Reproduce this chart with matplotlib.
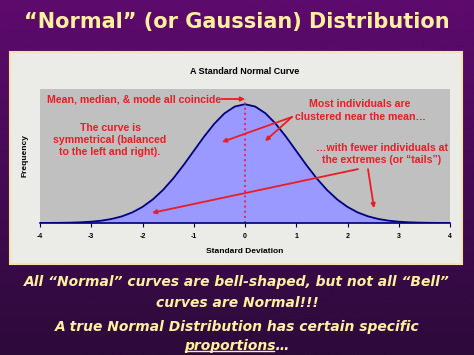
import numpy as np
import matplotlib.pyplot as plt
from matplotlib.patches import Rectangle
from matplotlib.colors import LinearSegmentedColormap

# standard deviations and the curve height
sd = [-4.0, -3.8, -3.6, -3.4, -3.2, -3.0, -2.8, -2.6, -2.4, -2.2, -2.0,
      -1.8, -1.6, -1.4, -1.2, -1.0, -0.8, -0.6, -0.4, -0.2, 0.0,
      0.2, 0.4, 0.6, 0.8, 1.0, 1.2, 1.4, 1.6, 1.8, 2.0,
      2.2, 2.4, 2.6, 2.8, 3.0, 3.2, 3.4, 3.6, 3.8, 4.0]
freq = [0.0001, 0.0003, 0.0006, 0.0012, 0.0024, 0.0044, 0.0079, 0.0136, 0.0224, 0.0355, 0.0540,
        0.0790, 0.1109, 0.1497, 0.1942, 0.2420, 0.2897, 0.3332, 0.3683, 0.3910, 0.3989,
        0.3910, 0.3683, 0.3332, 0.2897, 0.2420, 0.1942, 0.1497, 0.1109, 0.0790, 0.0540,
        0.0355, 0.0224, 0.0136, 0.0079, 0.0044, 0.0024, 0.0012, 0.0006, 0.0003, 0.0001]
ticks = [-4, -3, -2, -1, 0, 1, 2, 3, 4]

red = '#ea1c24'
yellow = '#fff0a0'
W, H = 474, 355

fig = plt.figure(figsize=(W / 100, H / 100), dpi=100)

# purple background
bg = fig.add_axes([0, 0, 1, 1], zorder=-10)
grad = np.linspace(0, 1, 256).reshape(-1, 1)
cmap = LinearSegmentedColormap.from_list('bg', ['#5e0a6e', '#2c0a3a'])
bg.imshow(grad, aspect='auto', cmap=cmap, extent=[0, 1, 0, 1])
bg.axis('off')

# light chart panel
fig.patches.append(Rectangle((10 / W, 1 - 264 / H), 452 / W, 212 / H,
                             transform=fig.transFigure, facecolor='#ebebe8',
                             edgecolor='#f3e3a8', lw=1.5, zorder=-5))

ax = fig.add_axes([40 / W, 1 - 223 / H, 410 / W, 134 / H])
ax.set_facecolor('#c0c0c0')
ax.fill_between(sd, freq, color='#9999ff', lw=0)
ax.plot(sd, freq, color='#000080', lw=1.3)
ax.set_xlim(-4, 4)
ax.set_ylim(0, 0.45)
ax.set_xticks(ticks)
ax.set_xticklabels([str(t) for t in ticks], fontsize=5, fontweight='bold',
                   family='Liberation Sans')
ax.tick_params(axis='x', length=3, width=0.8, color='#000040', pad=4)
ax.set_yticks([])
for s in ['left', 'top', 'right']:
    ax.spines[s].set_visible(False)
ax.spines['bottom'].set_color('#000080')
ax.spines['bottom'].set_linewidth(1.2)

ax.set_xlabel('Standard Deviation', fontsize=6, fontweight='bold',
              family='Liberation Sans', labelpad=6)
ax.set_ylabel('Frequency', fontsize=6, fontweight='bold',
              family='Liberation Sans', labelpad=8)
ax.set_title('A Standard Normal Curve', fontsize=6.5, fontweight='bold',
             family='Liberation Sans', pad=11)

# mean line
ax.plot([0, 0], [0, 0.4164], color='#e8206a', lw=1.4, ls=':')

tk = dict(color=red, fontsize=7.6, fontweight='bold', family='Liberation Sans',
          ha='center', va='center', linespacing=1.3)
arr = dict(arrowstyle='-|>', color=red, lw=1.3, mutation_scale=6,
           shrinkA=0, shrinkB=0)

ax.text(-0.47, 0.4164, 'Mean, median, & mode all coincide',
        **{**tk, 'ha': 'right'})
ax.annotate('', xy=(0, 0.4164), xytext=(-0.46, 0.4164), arrowprops=arr)

ax.text(-2.634, 0.279, 'The curve is\nsymmetrical (balanced\nto the left and right).', **tk)

ax.text(2.244, 0.378, 'Most individuals are\nclustered near the mean…', **tk)
ax.annotate('', xy=(0.39, 0.275), xytext=(0.917, 0.356), arrowprops=arr)
ax.annotate('', xy=(-0.449, 0.272), xytext=(0.917, 0.356), arrowprops=arr)

ax.text(2.673, 0.232, '…with fewer individuals at\nthe extremes (or “tails”)', **tk)
ax.annotate('', xy=(-1.815, 0.034), xytext=(2.205, 0.181), arrowprops=arr)
ax.annotate('', xy=(2.517, 0.05), xytext=(2.4, 0.181), arrowprops=arr)

# slide text
fig.text(0.5, 1 - 22 / H, '“Normal” (or Gaussian) Distribution', color=yellow,
         fontsize=15, fontweight='bold', ha='center', va='center')
bt = dict(color=yellow, fontsize=10, fontweight='bold', style='italic',
          ha='center', va='center')
fig.text(0.5, 1 - 282 / H, 'All “Normal” curves are bell-shaped, but not all “Bell”', **bt)
fig.text(0.5, 1 - 303 / H, 'curves are Normal!!!', **bt)
fig.text(0.5, 1 - 327 / H, 'A true Normal Distribution has certain specific', **bt)
t4 = fig.text(0.5, 1 - 346 / H, 'proportions…', **bt)

# underline "proportions"
r = fig.canvas.get_renderer()
bb = t4.get_window_extent(r)
tmp = fig.text(0, 0, 'proportions', **bt)
w = tmp.get_window_extent(r).width
tmp.remove()
fig.add_artist(plt.Line2D([(bb.x0 + 1) / W, (bb.x0 + w - 2) / W],
                          [(bb.y0 + 2) / H, (bb.y0 + 2) / H],
                          color=yellow, lw=1, transform=fig.transFigure))

fig.savefig('out.png', dpi=100)
